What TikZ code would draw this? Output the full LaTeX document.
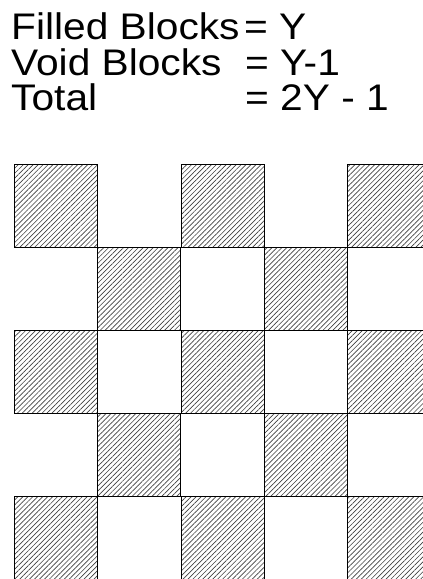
\documentclass[tikz,border=0pt]{standalone}
\usepackage{fontspec}
\setmainfont{Liberation Sans}
\newfontfamily\widesans[FakeStretch=1.1]{Liberation Sans}
\usetikzlibrary{patterns.meta}
\tikzset{
  blocktext/.style={anchor=base west, inner sep=0pt, font=\widesans\fontsize{37}{44}\selectfont},
  filledblock/.style={draw=black, line width=1.1pt, minimum size=83pt, inner sep=0pt,
    anchor=north west, pattern={Lines[angle=45, distance=3.5pt, line width=.65pt]},
    pattern color=black!75}
}

\begin{document}
\begin{tikzpicture}[x=1pt, y=-1pt]
  \useasboundingbox (0,0) rectangle (423,579);
  \clip (0,0) rectangle (423,579);

  \node[blocktext] (filledlbl) at (11,39) {Filled Blocks};
  \node[blocktext] (voidlbl) at (11,75) {Void Blocks};
  \node[blocktext] (totallbl) at (11,110) {Total};
  \node[blocktext] (filledval) at (244,39) {= Y};
  \node[blocktext] (voidval) at (245,75) {= Y-1};
  \node[blocktext] (totalval) at (245,110) {= 2Y - 1};

  % checkerboard of filled blocks, void cells left blank
  \foreach \r/\c in {0/0,0/2,0/4,1/1,1/3,2/0,2/2,2/4,3/1,3/3,4/0,4/2,4/4}{
    \node[filledblock] (b\r\c) at ({14+83.25*\c},{164+82.9*\r}) {};
  }
\end{tikzpicture}
\end{document}
